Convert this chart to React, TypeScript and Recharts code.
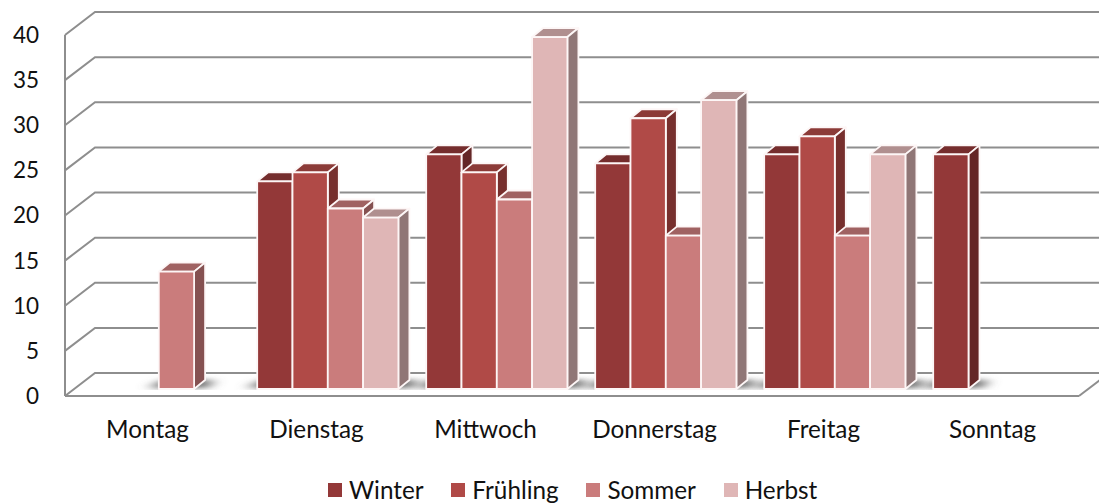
import React from 'react';
import { ComposedChart, Bar, XAxis, YAxis, CartesianGrid, Legend } from 'recharts';

const days = ['Montag', 'Dienstag', 'Mittwoch', 'Donnerstag', 'Freitag', 'Sonntag'];
const winter = [null, 23, 26, 25, 26, 26];
const fruehling = [null, 24, 24, 30, 28, null];
const sommer = [13, 20, 21, 17, 17, null];
const herbst = [null, 19, 39, 32, 26, null];
const yTicks = [0, 5, 10, 15, 20, 25, 30, 35, 40];

const seriesNames = ['Winter', 'Frühling', 'Sommer', 'Herbst'];
const seriesKeys = ['winter', 'fruehling', 'sommer', 'herbst'];
const fronts = ['#933838', '#B04A47', '#CA7C7C', '#DFB6B6'];
const tops = ['#752D2D', '#8C3B38', '#A06262', '#B08F8F'];
const sides = ['#642727', '#772F2D', '#855151', '#907676'];

const data = days.map((day, i) => ({
  day,
  winter: winter[i],
  fruehling: fruehling[i],
  sommer: sommer[i],
  herbst: herbst[i],
}));

const FONT = 'Lato, sans-serif';
const GRID = '#8E8E8E';
const CAT_GAP = 14;
const SHIFT_X = 9.2;
const SHIFT_Y = -7;
const DEPTH_X = 11;
const DEPTH_Y = 9;
const WALL_X = 30;
const WALL_Y = 23;
const WIDEN = 0.3;

const makeBar = (s: number) => (p: any) => {
  const value = p.payload?.[seriesKeys[s]];
  if (value === null || value === undefined) return <g />;
  const x = p.x + SHIFT_X + s * WIDEN;
  const y = p.y + SHIFT_Y;
  const w = p.width + WIDEN;
  const h = p.height;
  return (
    <g stroke="#FDF6F6" strokeWidth={1.8} strokeLinejoin="round">
      <polygon points={`${x},${y} ${x + DEPTH_X},${y - DEPTH_Y} ${x + w + DEPTH_X},${y - DEPTH_Y} ${x + w},${y}`} fill={tops[s]} />
      <polygon points={`${x + w},${y} ${x + w + DEPTH_X},${y - DEPTH_Y} ${x + w + DEPTH_X},${y + h - DEPTH_Y} ${x + w},${y + h}`} fill={sides[s]} />
      <rect x={x} y={y} width={w} height={h} fill={fronts[s]} />
    </g>
  );
};

const floorShadows = (x1: number, x2: number, y: number) => {
  const band = (x2 - x1) / days.length;
  const bw = (band - 2 * CAT_GAP) / seriesKeys.length;
  const base = y + SHIFT_Y;
  return data.map((row: any, i) => {
    const present = seriesKeys.map((k, s) => (row[k] !== null ? s : -1)).filter((s) => s >= 0);
    const start = x1 + i * band + CAT_GAP + SHIFT_X;
    const x0 = start + present[0] * bw;
    const xe = start + (present[present.length - 1] + 1) * bw;
    return (
      <g key={row.day} clipPath="url(#floorClip)">
        <polygon
          points={`${x0 - 10},${base - 1} ${x0 + 4},${base - 9} ${xe + 20},${base - 9} ${xe + 14},${base - 1}`}
          fill="#707070"
          stroke="none"
          filter="url(#shadowBlur)"
        />
      </g>
    );
  });
};

const gridLine = (p: any) => {
  const { x1, x2, y1 } = p;
  const isFloor = y1 > 380;
  return (
    <g key={p.key} fill="none" stroke={GRID} strokeWidth={2}>
      <polyline points={`${x1},${y1} ${x1 + WALL_X},${y1 - WALL_Y} ${x2 + WALL_X},${y1 - WALL_Y}`} />
      {isFloor && <line x1={x2} y1={y1} x2={x2 + WALL_X} y2={y1 - WALL_Y} />}
      {isFloor && floorShadows(x1, x2, y1)}
    </g>
  );
};

const LegendContent = ({ payload }: any) => (
  <div style={{ display: 'flex', justifyContent: 'flex-start', alignItems: 'center', paddingLeft: 328, fontFamily: FONT, fontSize: 24.3, color: '#111', lineHeight: '28px' }}>
    {(payload || []).map((e: any, i: number) => (
      <div key={i} style={{ display: 'flex', alignItems: 'center', marginRight: 27.7 }}>
        <span style={{ display: 'inline-block', width: 14, height: 14, background: e.color, marginRight: 7 }} />
        <span>{e.value}</span>
      </div>
    ))}
  </div>
);

export default function App() {
  return (
    <div style={{ position: 'absolute', left: 0, top: 0, width: 1099, height: 504, overflow: 'hidden', background: '#fff' }}>
      <ComposedChart
        width={1099}
        height={504}
        data={data}
        margin={{ top: 35, right: 20, bottom: 0, left: 0 }}
        barGap={0}
        barCategoryGap={CAT_GAP}
      >
        <defs>
          <filter id="shadowBlur" x="-40%" y="-200%" width="180%" height="500%">
            <feGaussianBlur stdDeviation="7 2.5" />
          </filter>
          <clipPath id="floorClip" clipPathUnits="userSpaceOnUse">
            <rect x={0} y={375} width={1099} height={15} />
          </clipPath>
        </defs>
        <CartesianGrid horizontal={gridLine} vertical={false} />
        <XAxis
          dataKey="day"
          height={80}
          tickLine={false}
          axisLine={{ stroke: GRID, strokeWidth: 2 }}
          tickSize={0}
          tickMargin={25}
          tick={{ fill: '#111', fontFamily: FONT, fontSize: 24.3, dx: -2 }}
          interval={0}
        />
        <YAxis
          width={65}
          domain={[0, 40]}
          ticks={yTicks}
          tickLine={false}
          axisLine={{ stroke: GRID, strokeWidth: 2 }}
          tickSize={0}
          tickMargin={26}
          tick={{ fill: '#111', fontFamily: FONT, fontSize: 22.5 }}
          interval={0}
        />
        <Legend
          verticalAlign="bottom"
          content={<LegendContent />}
          itemSorter={(item: any) => seriesNames.indexOf(item.value)}
          wrapperStyle={{ left: 0, width: 1099, bottom: 0 }}
        />
        {seriesKeys.map((k, s) => (
          <Bar
            key={k}
            dataKey={k}
            name={seriesNames[s]}
            fill={fronts[s]}
            isAnimationActive={false}
            shape={makeBar(s)}
          />
        ))}
      </ComposedChart>
    </div>
  );
}
